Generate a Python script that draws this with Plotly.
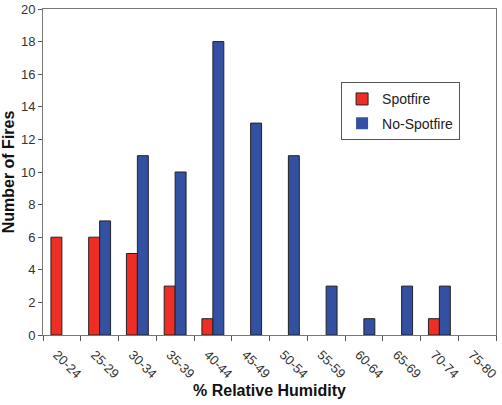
import plotly.graph_objects as go

categories = ["20-24", "25-29", "30-34", "35-39", "40-44", "45-49",
              "50-54", "55-59", "60-64", "65-69", "70-74", "75-80"]
spotfire = [6, 6, 5, 3, 1, 0, 0, 0, 0, 0, 1, 0]
no_spotfire = [0, 7, 11, 10, 18, 13, 11, 3, 1, 3, 3, 0]


def outline(vals):
    return [1 if v else 0 for v in vals]


fig = go.Figure()
fig.add_trace(go.Bar(x=categories, y=spotfire, name="Spotfire", legendgroup="a",
                     marker=dict(color="#EE2E24", line=dict(color="#222222", width=outline(spotfire)))))
fig.add_trace(go.Bar(x=categories, y=no_spotfire, name="No-Spotfire", legendgroup="b",
                     marker=dict(color="#3450A3", line=dict(color="#222222", width=outline(no_spotfire)))))

fig.update_layout(
    width=502, height=405,
    margin=dict(l=43, r=6, t=9, b=70),
    paper_bgcolor="white", plot_bgcolor="white",
    barmode="group", bargap=0.42, bargroupgap=0,
    font=dict(family="Liberation Sans, Arial", color="#333333", size=13),
    showlegend=True,
    legend=dict(x=0.658, y=0.775, xanchor="left", yanchor="top",
                bordercolor="#555555", borderwidth=1, bgcolor="white",
                font=dict(size=14, color="#222222"),
                itemwidth=30, tracegroupgap=3),
    xaxis=dict(type="category", tickson="boundaries", ticks="outside", ticklen=5,
               tickcolor="#555555", showline=True, linecolor="#777777", mirror=True,
               tickangle=45, showgrid=False, automargin=False, ticklabelshift=-5,
               ticklabelstandoff=6, tickfont=dict(size=13),
               title=dict(text="<b>% Relative Humidity</b>", font=dict(size=16, color="#111111"),
                          standoff=4)),
    yaxis=dict(range=[0, 20], dtick=2, ticks="outside", ticklen=4, tickcolor="#555555",
               showline=True, linecolor="#777777", mirror=True, showgrid=False, zeroline=False,
               automargin=False,
               title=dict(text="<b>Number of Fires</b>", font=dict(size=16, color="#111111"),
                          standoff=4)),
)

fig.write_html("out.html", config={"displayModeBar": False},
               post_script="document.body.style.margin='0';")
